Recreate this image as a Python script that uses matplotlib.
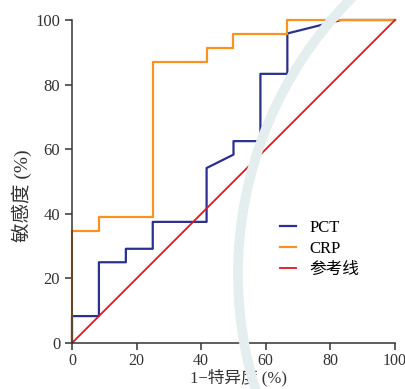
import matplotlib
matplotlib.use("Agg")
import matplotlib.pyplot as plt
from matplotlib.patches import Circle

plt.rcParams['font.family'] = ['Liberation Serif', 'Noto Sans CJK SC']

# ROC points (1-specificity %, sensitivity %)
pct_x = [0, 0, 8.33, 8.33, 16.67, 16.67, 25, 25, 41.67, 41.67, 50, 50, 58.33, 58.33, 66.67, 66.67, 83.33, 100]
pct_y = [0, 8.33, 8.33, 25, 25, 29.17, 29.17, 37.5, 37.5, 54.17, 58.33, 62.5, 62.5, 83.33, 83.33, 95.83, 100, 100]

crp_x = [0, 0, 8.33, 8.33, 25, 25, 41.67, 41.67, 50, 50, 66.67, 66.67, 100]
crp_y = [0, 34.78, 34.78, 39.13, 39.13, 86.96, 86.96, 91.3, 91.3, 95.65, 95.65, 100, 100]

ref_x = [0, 100]
ref_y = [0, 100]

ticks = [0, 20, 40, 60, 80, 100]

fig = plt.figure(figsize=(4.06, 3.89), dpi=100)

# faint watermark arc in the background (inches from bottom-left)
arc = Circle((6.30, 1.15), 3.92, fill=False, lw=7, edgecolor="#e4eeef", zorder=0)
arc.set_transform(fig.dpi_scale_trans)
fig.patches.append(arc)

ax = fig.add_axes([72 / 406, 46 / 389, 323 / 406, 323 / 389])
ax.patch.set_alpha(0)

ax.plot(pct_x, pct_y, color="#2b2f8f", lw=1.6, label="PCT", clip_on=False)
ax.plot(crp_x, crp_y, color="#f7931e", lw=1.6, label="CRP", clip_on=False)
ax.plot(ref_x, ref_y, color="#e8141b", lw=1.3, label="参考线", clip_on=False)

ax.set_xlim(0, 100)
ax.set_ylim(0, 100)
ax.set_xticks(ticks)
ax.set_yticks(ticks)
for s in ["top", "right"]:
    ax.spines[s].set_visible(False)
for s in ["left", "bottom"]:
    ax.spines[s].set_color("#333333")
    ax.spines[s].set_linewidth(1.1)
ax.tick_params(direction="out", length=5, width=1.1, color="#333333",
               labelsize=12, labelcolor="#333333")
ax.tick_params(axis="x", pad=2, labelsize=11.5)

ax.set_xlabel("1−特异度 (%)", fontsize=12, color="#333333")
ax.set_ylabel("敏感度 (%)", fontsize=14, color="#333333")
ax.xaxis.set_label_coords(0.517, -0.08)
ax.yaxis.set_label_coords(-0.125, 0.455)

ax.legend(loc="center left", bbox_to_anchor=(0.645, 0.291), frameon=False,
          fontsize=12, handlelength=0.95, handletextpad=0.8, labelspacing=0.3,
          borderpad=0, borderaxespad=0)

fig.savefig("out.png", dpi=100)
